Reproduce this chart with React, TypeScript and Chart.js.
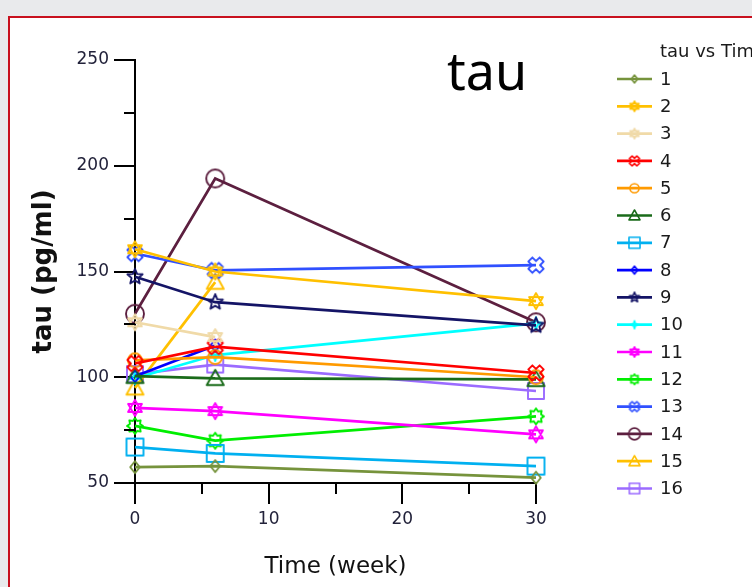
import React, { useEffect, useRef } from 'react';
import { Chart, registerables } from 'chart.js';

Chart.register(...registerables);

// ---- data ----
const weeks = [0, 6, 30];
const seriesLabels = ['1', '2', '3', '4', '5', '6', '7', '8', '9', '10', '11', '12', '13', '14', '15', '16'];
const s1 = [57.5, 58, 52.5];
const s2 = [160.5, 150, 136];
const s3 = [126, 119, null];
const s4 = [106.5, 114.5, 102];
const s5 = [108, 109.5, 100];
const s6 = [100.5, 99.5, 99];
const s7 = [67, 64, 58];
const s8 = [100.5, 115, null];
const s9 = [147.5, 135.5, 124.5];
const s10 = [99.5, 110.5, 125.5];
const s11 = [85.5, 84, 73];
const s12 = [77, 70, 81.5];
const s13 = [158.5, 150.5, 153];
const s14 = [130, 194, 126];
const s15 = [95, 145, null];
const s16 = [101.5, 106, 93.5];
const seriesValues = [s1, s2, s3, s4, s5, s6, s7, s8, s9, s10, s11, s12, s13, s14, s15, s16];

const xTicks = [0, 10, 20, 30];
const xMinorTicks = [5, 15, 25];
const yTicks = [50, 100, 150, 200, 250];
const yMinorTicks = [75, 125, 175, 225];

const chartTitle = 'tau';
const legendTitle = 'tau vs Time';
const xTitle = 'Time (week)';
const yTitle = 'tau (pg/ml)';

// ---- styles ----
const colors = [
  '#76933c', '#ffc000', '#f0daa8', '#ff0000', '#ff9a00', '#1a6b1a', '#00b0f0', '#0000ff',
  '#141466', '#00ffff', '#ff00ff', '#00ee00', '#3050ff', '#5c1f3f', '#ffc000', '#9b6bff',
];
const shapes = [
  'diamond', 'hexagram', 'hexagram', 'xcross', 'circle', 'triangle', 'square', 'diamond',
  'star5', 'star4', 'hexagram', 'sun', 'xcross', 'circle', 'triangle', 'square',
];
const radii = [6, 8, 8, 8, 7, 8.5, 8.5, 6, 8, 6, 8, 8, 8, 9, 8.5, 8];

const FONT = "'DejaVu Sans', Verdana, sans-serif";
const TICK_COLOR = '#22223a';

function polygon(ctx: CanvasRenderingContext2D, pts: number[][]) {
  ctx.moveTo(pts[0][0], pts[0][1]);
  for (let i = 1; i < pts.length; i++) ctx.lineTo(pts[i][0], pts[i][1]);
  ctx.closePath();
}

function starPts(n: number, ro: number, ri: number, rot = -Math.PI / 2) {
  const pts: number[][] = [];
  for (let i = 0; i < n * 2; i++) {
    const r = i % 2 === 0 ? ro : ri;
    const a = rot + (i * Math.PI) / n;
    pts.push([r * Math.cos(a), r * Math.sin(a)]);
  }
  return pts;
}

function drawShape(ctx: CanvasRenderingContext2D, shape: string, r: number) {
  ctx.beginPath();
  switch (shape) {
    case 'circle':
      ctx.arc(0, 0, r, 0, Math.PI * 2);
      break;
    case 'square':
      ctx.rect(-r, -r, 2 * r, 2 * r);
      break;
    case 'triangle':
      polygon(ctx, [[0, -r], [r, r * 0.8], [-r, r * 0.8]]);
      break;
    case 'diamond':
      polygon(ctx, [[0, -r], [r * 0.8, 0], [0, r], [-r * 0.8, 0]]);
      break;
    case 'hexagram': {
      const t1: number[][] = [];
      const t2: number[][] = [];
      for (let i = 0; i < 3; i++) {
        const a1 = -Math.PI / 2 + (i * 2 * Math.PI) / 3;
        const a2 = Math.PI / 2 + (i * 2 * Math.PI) / 3;
        t1.push([r * Math.cos(a1), r * Math.sin(a1)]);
        t2.push([r * Math.cos(a2), r * Math.sin(a2)]);
      }
      polygon(ctx, t1);
      polygon(ctx, t2);
      break;
    }
    case 'star5':
      polygon(ctx, starPts(5, r, r * 0.45));
      break;
    case 'star4':
      polygon(ctx, starPts(4, r, r * 0.35));
      break;
    case 'sun':
      polygon(ctx, starPts(8, r, r * 0.68));
      break;
    case 'xcross': {
      const a = r * 0.36;
      const plus = [
        [a, -r], [a, -a], [r, -a], [r, a], [a, a], [a, r],
        [-a, r], [-a, a], [-r, a], [-r, -a], [-a, -a], [-a, -r],
      ];
      const c = Math.cos(Math.PI / 4);
      const rotd = plus.map(([x, y]) => [x * c - y * c, x * c + y * c]);
      polygon(ctx, rotd);
      break;
    }
    default:
      ctx.arc(0, 0, r, 0, Math.PI * 2);
  }
  ctx.stroke();
}

function makeMarker(shape: string, color: string, r: number, lw: number) {
  const size = Math.ceil(2 * r + lw + 4);
  const c = document.createElement('canvas');
  c.width = size;
  c.height = size;
  const ctx = c.getContext('2d')!;
  ctx.translate(size / 2, size / 2);
  ctx.strokeStyle = color;
  ctx.lineWidth = lw;
  ctx.lineJoin = 'round';
  drawShape(ctx, shape, r);
  return c;
}

export default function App() {
  const ref = useRef<HTMLCanvasElement>(null);

  useEffect(() => {
    const canvas = ref.current;
    if (!canvas) return;

    const pointImgs = seriesLabels.map((_, i) => makeMarker(shapes[i], colors[i], radii[i], 1.9));
    const legendImgs = seriesLabels.map((_, i) => makeMarker(shapes[i], colors[i], radii[i] * 0.65, 1.6));

    const datasets = seriesLabels.map((label, i) => ({
      label,
      data: weeks
        .map((w, j) => ({ x: w, y: seriesValues[i][j] }))
        .filter((p) => p.y !== null && p.y !== undefined),
      borderColor: colors[i],
      backgroundColor: colors[i],
      borderWidth: 2.7,
      pointStyle: pointImgs[i],
      pointRadius: 9,
      tension: 0,
      clip: false as any,
    }));

    const extras = {
      id: 'extras',
      afterDraw(chart: any) {
        const ctx: CanvasRenderingContext2D = chart.ctx;
        const xs = chart.scales.x;
        const ys = chart.scales.y;
        ctx.save();
        // minor ticks
        ctx.strokeStyle = '#000';
        ctx.lineWidth = 2;
        ctx.beginPath();
        xMinorTicks.forEach((v) => {
          const px = Math.round(xs.getPixelForValue(v));
          ctx.moveTo(px, ys.bottom);
          ctx.lineTo(px, ys.bottom + 11);
        });
        yMinorTicks.forEach((v) => {
          const py = Math.round(ys.getPixelForValue(v));
          ctx.moveTo(xs.left, py);
          ctx.lineTo(xs.left - 11, py);
        });
        ctx.stroke();

        // chart title
        ctx.fillStyle = '#000';
        ctx.font = "52px 'Noto Sans', 'Open Sans', sans-serif";
        ctx.textBaseline = 'alphabetic';
        ctx.textAlign = 'left';
        ctx.fillText(chartTitle, 447, 90);

        // legend
        const lx = 617;
        const lx2 = 652;
        const tx = 660;
        ctx.font = `18px ${FONT}`;
        ctx.fillStyle = '#1a1a1a';
        ctx.textBaseline = 'middle';
        ctx.fillText(legendTitle, tx, 52);
        seriesLabels.forEach((label, i) => {
          const y = 79 + i * 27.3;
          ctx.strokeStyle = colors[i];
          ctx.lineWidth = 2.7;
          ctx.beginPath();
          ctx.moveTo(lx, y);
          ctx.lineTo(lx2, y);
          ctx.stroke();
          const img = legendImgs[i];
          ctx.drawImage(img, (lx + lx2) / 2 - img.width / 2, y - img.height / 2);
          ctx.fillStyle = '#1a1a1a';
          ctx.fillText(label, tx, y + 1);
        });
        ctx.restore();
      },
    };

    const chart = new Chart(canvas, {
      type: 'line',
      data: { datasets: datasets as any },
      options: {
        animation: false,
        responsive: false,
        devicePixelRatio: 1,
        layout: { padding: { left: 0, top: 60, right: 216, bottom: 0 } },
        plugins: {
          legend: { display: false },
          title: { display: false },
          tooltip: { enabled: false },
        },
        scales: {
          x: {
            type: 'linear',
            min: 0,
            max: 30,
            afterBuildTicks: (s: any) => {
              s.ticks = xTicks.map((v) => ({ value: v }));
            },
            afterFit: (s: any) => {
              s.height = 104;
            },
            border: { display: true, color: '#000', width: 2 },
            grid: { drawOnChartArea: false, drawTicks: true, tickLength: 21, color: '#000', lineWidth: 2 },
            ticks: { padding: 5, color: TICK_COLOR, font: { family: FONT, size: 17 }, maxRotation: 0 },
            title: {
              display: true,
              text: xTitle,
              color: '#111',
              font: { family: FONT, size: 23 },
              padding: { top: 0, bottom: 6 },
            },
          },
          y: {
            type: 'linear',
            min: 50,
            max: 250,
            afterBuildTicks: (s: any) => {
              s.ticks = yTicks.map((v) => ({ value: v }));
            },
            afterFit: (s: any) => {
              s.width = 135;
            },
            border: { display: true, color: '#000', width: 2 },
            grid: { drawOnChartArea: false, drawTicks: true, tickLength: 21, color: '#000', lineWidth: 2 },
            ticks: { padding: 5, color: TICK_COLOR, font: { family: FONT, size: 17 } },
            title: {
              display: true,
              text: yTitle,
              color: '#111',
              font: { family: FONT, size: 26, weight: 'bold' },
              padding: { top: 29, bottom: 0 },
            },
          },
        },
      },
      plugins: [extras],
    });

    return () => chart.destroy();
  }, []);

  return (
    <div
      style={{
        position: 'fixed',
        left: 0,
        top: 0,
        width: 752,
        height: 587,
        background: '#e9eaec',
        overflow: 'hidden',
      }}
    >
      <div
        style={{
          position: 'absolute',
          left: 8,
          top: 16,
          width: 820,
          height: 700,
          background: '#ffffff',
          borderTop: '2px solid #c8101e',
          borderLeft: '2px solid #c8101e',
          boxSizing: 'border-box',
        }}
      />
      <canvas
        ref={ref}
        width={752}
        height={587}
        style={{ position: 'absolute', left: 0, top: 0, width: 752, height: 587 }}
      />
    </div>
  );
}
